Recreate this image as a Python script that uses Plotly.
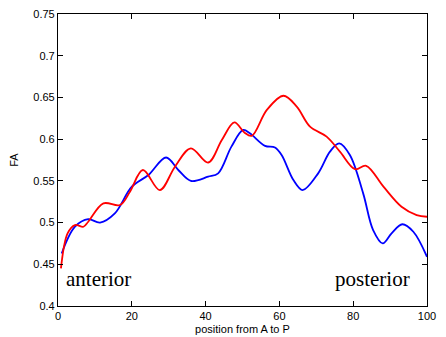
import plotly.graph_objects as go

# Blue curve
blue_x = [1.0, 4.6, 8.2, 11.4, 15.4, 20.0, 24.5, 29.3, 32.6, 36.0, 40.7, 43.4, 47.0, 50.2,
          52.0, 56.1, 58.8, 60.6, 63.8, 66.3, 70.5, 73.7, 76.2, 79.1, 82.7, 85.4, 88.0,
          90.4, 93.3, 96.3, 100.0]
blue_y = [0.463, 0.495, 0.504, 0.500, 0.511, 0.543, 0.557, 0.578, 0.563, 0.550, 0.555, 0.559,
          0.591, 0.611, 0.607, 0.592, 0.590, 0.581, 0.551, 0.539, 0.559, 0.585, 0.595, 0.581,
          0.535, 0.491, 0.475, 0.487, 0.498, 0.489, 0.459]

# Red curve
red_x = [0.8, 2.6, 4.6, 6.9, 8.2, 12.3, 16.8, 19.5, 23.0, 27.6, 31.7, 36.0, 40.7, 44.4, 47.8,
         50.5, 52.5, 56.6, 61.1, 64.7, 68.3, 72.8, 76.4, 80.5, 83.5, 88.2, 93.1, 97.2, 100.0]
red_y = [0.445, 0.487, 0.497, 0.495, 0.501, 0.523, 0.521, 0.537, 0.563, 0.539, 0.567, 0.589,
         0.572, 0.599, 0.620, 0.608, 0.604, 0.635, 0.652, 0.639, 0.615, 0.603, 0.585, 0.564,
         0.568, 0.543, 0.519, 0.509, 0.507]

x_ticks = [0, 20, 40, 60, 80, 100]
y_ticks = [0.4, 0.45, 0.5, 0.55, 0.6, 0.65, 0.7, 0.75]
y_labels = ["0.4", "0.45", "0.5", "0.55", "0.6", "0.65", "0.7", "0.75"]

fig = go.Figure()
fig.add_trace(go.Scatter(x=blue_x, y=blue_y, mode="lines",
                         line=dict(color="#0000ff", width=1.8, shape="spline", smoothing=1.0)))
fig.add_trace(go.Scatter(x=red_x, y=red_y, mode="lines",
                         line=dict(color="#ff0000", width=1.8, shape="spline", smoothing=1.0)))

axis_common = dict(showgrid=False, zeroline=False, showline=True, linecolor="black",
                   linewidth=1.2, mirror="allticks", ticks="inside", ticklen=5,
                   tickcolor="black", automargin=False, ticklabeloverflow="allow",
                   tickfont=dict(family="Liberation Sans, Arial", size=11, color="black"))

fig.update_xaxes(range=[0, 100], tickvals=x_ticks, ticktext=[str(v) for v in x_ticks],
                 title=dict(text="position from A to P", standoff=4,
                            font=dict(family="Liberation Sans, Arial", size=11, color="black")),
                 **axis_common)
fig.update_yaxes(range=[0.4, 0.75], tickvals=y_ticks, ticktext=y_labels,
                 title=dict(text="FA", standoff=12,
                            font=dict(family="Liberation Sans, Arial", size=11, color="black")),
                 **axis_common)

fig.add_annotation(text="anterior", xref="paper", yref="paper", x=0.016, y=0.092,
                   xanchor="left", yanchor="middle", showarrow=False,
                   font=dict(family="Liberation Serif, Times New Roman", size=21, color="black"))
fig.add_annotation(text="posterior", xref="paper", yref="paper", x=0.959, y=0.092,
                   xanchor="right", yanchor="middle", showarrow=False,
                   font=dict(family="Liberation Serif, Times New Roman", size=21, color="black"))

# page body has an 8px default margin, so the figure is sized/margined to compensate
fig.update_layout(width=438, height=329, showlegend=False, template="none",
                  margin=dict(l=50, r=19, t=6, b=31, autoexpand=False),
                  plot_bgcolor="white", paper_bgcolor="white")

fig.write_html("out.html")
